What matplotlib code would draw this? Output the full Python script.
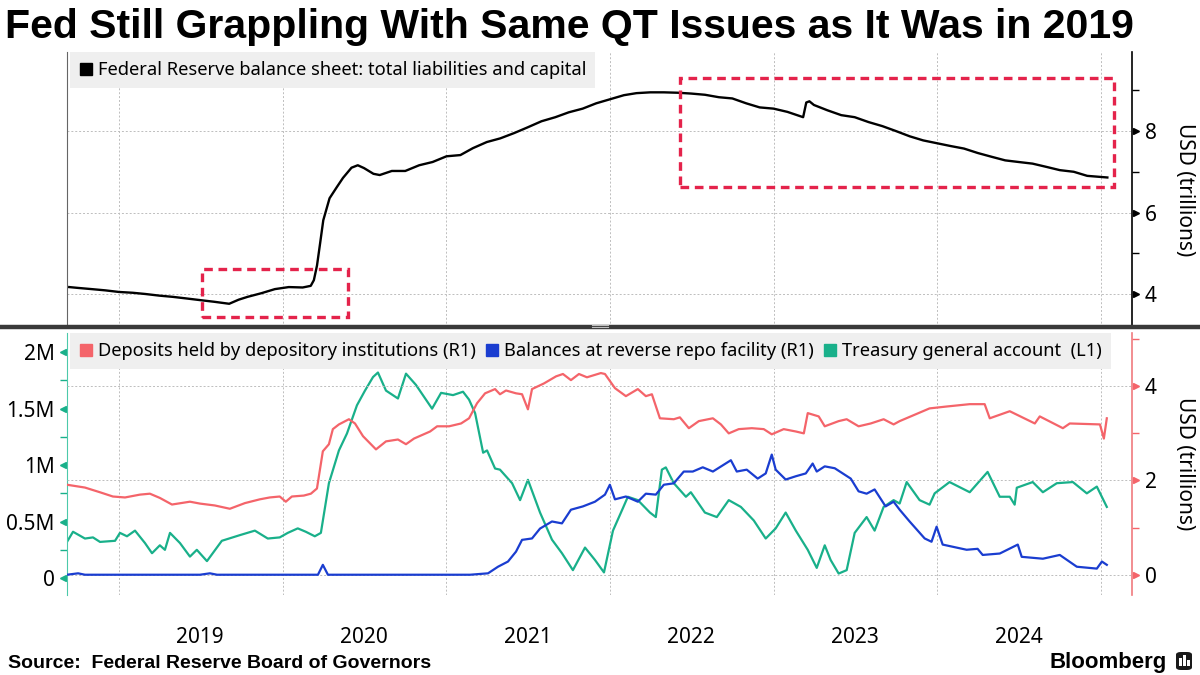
import numpy as np
import pandas as pd
import matplotlib
matplotlib.use("Agg")
import matplotlib.pyplot as plt
import matplotlib.dates as mdates
import matplotlib.ticker as mticker
import matplotlib.transforms as mtransforms
from matplotlib.patches import Rectangle, FancyBboxPatch
from matplotlib.lines import Line2D

plt.rcParams['font.family'] = ['Noto Sans', 'DejaVu Sans']

# ---- data ----
# Fed balance sheet, USD trillions
bs_dates = ["2018-09-12", "2018-10-01", "2018-11-01", "2018-12-01", "2019-01-01", "2019-02-01",
            "2019-03-01", "2019-04-01", "2019-05-01", "2019-06-01", "2019-07-01", "2019-08-01",
            "2019-09-04", "2019-09-25", "2019-10-15", "2019-11-15", "2019-12-15", "2020-01-15",
            "2020-02-15", "2020-03-04", "2020-03-11", "2020-03-18", "2020-03-25", "2020-04-01",
            "2020-04-15", "2020-05-01", "2020-05-15", "2020-06-03", "2020-06-17", "2020-07-01",
            "2020-07-22", "2020-08-05", "2020-09-01", "2020-10-01", "2020-11-01", "2020-12-01",
            "2021-01-01", "2021-02-01", "2021-03-01", "2021-04-01", "2021-05-01", "2021-06-01",
            "2021-07-01", "2021-08-01", "2021-09-01", "2021-10-01", "2021-11-01", "2021-12-01",
            "2022-01-01", "2022-02-01", "2022-03-01", "2022-04-01", "2022-05-01", "2022-06-01",
            "2022-07-01", "2022-08-01", "2022-09-01", "2022-10-01", "2022-11-01", "2022-12-01",
            "2023-01-01", "2023-02-01", "2023-03-08", "2023-03-15", "2023-03-22", "2023-04-01",
            "2023-05-01", "2023-06-01", "2023-07-01", "2023-08-01", "2023-09-01", "2023-10-01",
            "2023-11-01", "2023-12-01", "2024-01-01", "2024-02-01", "2024-03-01", "2024-04-01",
            "2024-05-01", "2024-06-01", "2024-07-01", "2024-08-01", "2024-09-01", "2024-10-01",
            "2024-11-01", "2024-12-01", "2025-01-15"]
bs_vals = [4.17, 4.15, 4.12, 4.09, 4.05, 4.03,
           4.00, 3.96, 3.93, 3.89, 3.85, 3.81,
           3.76, 3.86, 3.93, 4.02, 4.12, 4.17,
           4.16, 4.20, 4.34, 4.70, 5.25, 5.81,
           6.35, 6.62, 6.85, 7.10, 7.16, 7.09,
           6.95, 6.92, 7.02, 7.02, 7.16, 7.24,
           7.38, 7.41, 7.58, 7.73, 7.82, 7.95,
           8.09, 8.24, 8.34, 8.46, 8.55, 8.68,
           8.78, 8.88, 8.93, 8.95, 8.95, 8.94,
           8.92, 8.89, 8.83, 8.80, 8.68, 8.58,
           8.55, 8.47, 8.34, 8.70, 8.73, 8.64,
           8.51, 8.39, 8.34, 8.22, 8.12, 8.00,
           7.87, 7.77, 7.70, 7.63, 7.57, 7.46,
           7.37, 7.28, 7.24, 7.20, 7.12, 7.04,
           7.00, 6.90, 6.86]

# Deposits held by depository institutions, USD trillions (R1); times as decimal years
dep_t = [2018.682, 2018.792, 2018.884, 2018.963, 2019.037, 2019.128, 2019.189, 2019.250,
         2019.324, 2019.434, 2019.495, 2019.586, 2019.678, 2019.770, 2019.861, 2019.922,
         2019.983, 2020.020, 2020.057, 2020.130, 2020.173, 2020.210, 2020.246, 2020.283,
         2020.307, 2020.344, 2020.405, 2020.442, 2020.491, 2020.570, 2020.631, 2020.704,
         2020.753, 2020.802, 2020.900, 2020.943, 2021.016, 2021.089, 2021.138, 2021.187,
         2021.236, 2021.297, 2021.327, 2021.364, 2021.425, 2021.462, 2021.498, 2021.523,
         2021.596, 2021.670, 2021.712, 2021.761, 2021.810, 2021.859, 2021.944, 2021.969,
         2022.030, 2022.097, 2022.170, 2022.219, 2022.256, 2022.305, 2022.390, 2022.427,
         2022.482, 2022.543, 2022.629, 2022.678, 2022.726, 2022.787, 2022.867, 2022.940,
         2022.989, 2023.062, 2023.136, 2023.185, 2023.209, 2023.276, 2023.313, 2023.398,
         2023.447, 2023.520, 2023.594, 2023.673, 2023.734, 2023.771, 2023.954, 2024.058,
         2024.199, 2024.290, 2024.321, 2024.443, 2024.596, 2024.626, 2024.767, 2024.809,
         2024.993, 2025.017, 2025.035]
dep_vals = [1.91, 1.85, 1.75, 1.66, 1.64, 1.70, 1.72, 1.63,
            1.49, 1.55, 1.51, 1.47, 1.40, 1.52, 1.60, 1.64,
            1.66, 1.55, 1.66, 1.68, 1.72, 1.83, 2.62, 2.77,
            3.09, 3.19, 3.30, 3.21, 2.94, 2.66, 2.83, 2.87,
            2.77, 2.89, 3.04, 3.15, 3.15, 3.21, 3.32, 3.64,
            3.85, 3.94, 3.83, 3.91, 3.85, 3.83, 3.51, 3.94,
            4.06, 4.21, 4.26, 4.13, 4.26, 4.19, 4.28, 4.26,
            3.96, 3.79, 3.94, 3.79, 3.83, 3.32, 3.30, 3.34,
            3.11, 3.26, 3.32, 3.19, 3.00, 3.09, 3.11, 3.09,
            2.98, 3.09, 3.04, 3.00, 3.43, 3.36, 3.15, 3.26,
            3.30, 3.15, 3.21, 3.30, 3.19, 3.26, 3.53, 3.57,
            3.62, 3.62, 3.32, 3.47, 3.21, 3.36, 3.11, 3.21,
            3.19, 2.89, 3.32]

# Balances at reverse repo facility, USD trillions (R1)
rrp_t = [2018.682, 2018.750, 2018.792, 2019.495, 2019.556, 2019.600, 2020.216, 2020.246,
         2020.277, 2021.144, 2021.254, 2021.315, 2021.376, 2021.425, 2021.462, 2021.523,
         2021.572, 2021.645, 2021.706, 2021.761, 2021.834, 2021.908, 2021.969, 2021.999,
         2022.030, 2022.097, 2022.170, 2022.219, 2022.280, 2022.329, 2022.390, 2022.451,
         2022.506, 2022.567, 2022.629, 2022.739, 2022.775, 2022.836, 2022.903, 2022.952,
         2022.989, 2023.013, 2023.074, 2023.136, 2023.197, 2023.239, 2023.264, 2023.313,
         2023.374, 2023.472, 2023.520, 2023.569, 2023.618, 2023.685, 2023.734, 2023.771,
         2023.832, 2023.924, 2023.966, 2023.997, 2024.034, 2024.180, 2024.247, 2024.278,
         2024.382, 2024.492, 2024.516, 2024.645, 2024.748, 2024.852, 2024.974, 2025.005,
         2025.035]
rrp_vals = [0.00, 0.03, 0.00, 0.00, 0.03, 0.00, 0.00, 0.21,
            0.00, 0.00, 0.03, 0.17, 0.28, 0.49, 0.74, 0.77,
            0.98, 1.13, 1.09, 1.38, 1.45, 1.55, 1.70, 1.91,
            1.60, 1.66, 1.55, 1.72, 1.70, 1.91, 1.94, 2.19,
            2.19, 2.28, 2.19, 2.43, 2.19, 2.23, 2.04, 2.15,
            2.55, 2.23, 2.02, 2.09, 2.15, 2.36, 2.19, 2.30,
            2.26, 2.04, 1.77, 1.72, 1.81, 1.45, 1.55, 1.38,
            1.13, 0.77, 0.70, 1.02, 0.64, 0.53, 0.55, 0.42,
            0.45, 0.64, 0.38, 0.34, 0.42, 0.17, 0.13, 0.28,
            0.21]

# Treasury general account, USD millions, shown in M (L1)
tga_t = [2018.682, 2018.719, 2018.792, 2018.841, 2018.884, 2018.976, 2019.006, 2019.049,
         2019.098, 2019.159, 2019.202, 2019.250, 2019.281, 2019.312, 2019.373, 2019.434,
         2019.476, 2019.538, 2019.629, 2019.739, 2019.831, 2019.910, 2019.983, 2020.032,
         2020.093, 2020.142, 2020.197, 2020.234, 2020.283, 2020.344, 2020.393, 2020.454,
         2020.503, 2020.552, 2020.582, 2020.631, 2020.704, 2020.753, 2020.814, 2020.912,
         2020.967, 2021.040, 2021.101, 2021.138, 2021.175, 2021.224, 2021.248, 2021.297,
         2021.327, 2021.401, 2021.450, 2021.498, 2021.572, 2021.645, 2021.706, 2021.773,
         2021.847, 2021.908, 2021.963, 2022.018, 2022.079, 2022.109, 2022.170, 2022.244,
         2022.280, 2022.317, 2022.341, 2022.390, 2022.464, 2022.494, 2022.580, 2022.653,
         2022.726, 2022.800, 2022.879, 2022.952, 2023.013, 2023.074, 2023.136, 2023.209,
         2023.264, 2023.313, 2023.349, 2023.398, 2023.447, 2023.496, 2023.569, 2023.618,
         2023.673, 2023.734, 2023.771, 2023.814, 2023.893, 2023.954, 2023.985, 2024.076,
         2024.199, 2024.308, 2024.382, 2024.443, 2024.473, 2024.486, 2024.583, 2024.645,
         2024.730, 2024.828, 2024.913, 2024.974, 2025.035]
tga_vals = [0.32, 0.41, 0.35, 0.36, 0.32, 0.33, 0.40, 0.37,
            0.42, 0.31, 0.22, 0.29, 0.25, 0.40, 0.31, 0.19,
            0.25, 0.15, 0.33, 0.38, 0.42, 0.35, 0.36, 0.40,
            0.44, 0.41, 0.37, 0.40, 0.84, 1.13, 1.28, 1.53,
            1.66, 1.78, 1.82, 1.66, 1.59, 1.81, 1.71, 1.50,
            1.64, 1.62, 1.65, 1.58, 1.46, 1.11, 1.13, 0.97,
            0.96, 0.84, 0.69, 0.87, 0.58, 0.34, 0.22, 0.07,
            0.27, 0.16, 0.05, 0.42, 0.62, 0.72, 0.69, 0.58,
            0.54, 0.96, 0.98, 0.84, 0.72, 0.76, 0.58, 0.54,
            0.69, 0.63, 0.51, 0.35, 0.44, 0.58, 0.42, 0.25,
            0.09, 0.29, 0.16, 0.04, 0.07, 0.40, 0.54, 0.42,
            0.63, 0.69, 0.66, 0.85, 0.69, 0.65, 0.75, 0.85,
            0.76, 0.94, 0.72, 0.72, 0.65, 0.80, 0.85, 0.76,
            0.84, 0.85, 0.75, 0.81, 0.63]

# red boxes on the top panel: (start, end, low, high)
box_starts = ["2019-07-05", "2022-06-07"]
box_ends = ["2020-05-26", "2025-01-30"]
box_lows = [3.44, 6.62]
box_highs = [4.61, 9.29]


def dec_to_date(values):
    out = []
    for v in values:
        y = int(np.floor(v))
        start = pd.Timestamp(year=y, month=1, day=1)
        days = (pd.Timestamp(year=y + 1, month=1, day=1) - start).days
        out.append(start + pd.Timedelta(days=(v - y) * days))
    return out


# ---- colours ----
c_black = "#000000"
c_dep = "#f4646a"
c_rrp = "#1a3dd0"
c_tga = "#19b08a"
c_box = "#e4234b"
c_grid = "#bdbdbd"

W, H = 1200, 675
fig = plt.figure(figsize=(12, 6.75), dpi=100)


def px_box(l, t, r, b):
    return [l / W, 1 - b / H, (r - l) / W, (b - t) / H]


ax1 = fig.add_axes(px_box(67, 52, 1132, 327))
ax2 = fig.add_axes(px_box(67, 333, 1132, 595), sharex=ax1)
ax2r = ax2.twinx()

xmin, xmax = pd.Timestamp("2018-09-07"), pd.Timestamp("2025-03-11")
label_x = (1185 - 67) / (1132 - 67)

# ---- top panel ----
ax1.plot(pd.to_datetime(bs_dates), bs_vals, color=c_black, lw=1.7, zorder=3)
ax1.set_xlim(xmin, xmax)
ax1.set_ylim(3.19, 9.94)
ax1.yaxis.tick_right()
ax1.yaxis.set_label_position("right")
ax1.set_yticks([4, 6, 8])
ax1.yaxis.set_minor_locator(mticker.FixedLocator([5, 7, 9]))
ax1.tick_params(axis="y", which="major", length=0, pad=9, labelsize=15)
ax1.tick_params(axis="y", which="minor", length=5, width=1, color=c_black)
ax1.set_ylabel("USD (trillions)", rotation=270, fontsize=15, ha="center", va="center")
ax1.yaxis.set_label_coords(label_x, 0.5)
for s in ["top", "bottom"]:
    ax1.spines[s].set_visible(False)
ax1.spines["left"].set_color("#666666")
ax1.spines["left"].set_linewidth(0.8)
ax1.spines["right"].set_color(c_black)
ax1.spines["right"].set_linewidth(1.2)
ax1.grid(True, axis="both", which="major", color=c_grid, ls=(0, (2, 2)), lw=0.7)
trans1 = mtransforms.blended_transform_factory(ax1.transAxes, ax1.transData)
ax1.plot([1.0035] * 3, [4, 6, 8], transform=trans1, ls="none", marker=">", ms=5,
         color=c_black, clip_on=False)

for st, en, lo, hi in zip(box_starts, box_ends, box_lows, box_highs):
    x0 = mdates.date2num(pd.Timestamp(st))
    x1 = mdates.date2num(pd.Timestamp(en))
    ax1.add_patch(Rectangle((x0, lo), x1 - x0, hi - lo, fill=False, ec=c_box,
                            lw=2.4, ls=(0, (2.6, 1.7)), zorder=4))

leg1 = ax1.legend(handles=[Line2D([], [], ls="none", marker="s", ms=9, color=c_black)],
                  labels=["Federal Reserve balance sheet: total liabilities and capital"],
                  loc="upper left", bbox_to_anchor=(0.003, 1.0), borderaxespad=0,
                  frameon=True, fancybox=False, facecolor="#efefef", edgecolor="none",
                  framealpha=1, fontsize=13.2, handlelength=0.7, handletextpad=0.3,
                  borderpad=0.5)

# ---- bottom panel ----
ax2.plot(dec_to_date(tga_t), tga_vals, color=c_tga, lw=1.6, zorder=2)
ax2r.plot(dec_to_date(dep_t), dep_vals, color=c_dep, lw=1.6, zorder=3)
ax2r.plot(dec_to_date(rrp_t), rrp_vals, color=c_rrp, lw=1.6, zorder=4)

ax2.set_ylim(-0.15, 2.17)
ax2.set_yticks([0, 0.5, 1, 1.5, 2])
ax2.set_yticklabels(["0", "0.5M", "1M", "1.5M", "2M"])
ax2.yaxis.set_minor_locator(mticker.FixedLocator([0.25, 0.75, 1.25, 1.75]))
ax2.tick_params(axis="y", which="major", length=0, pad=9, labelsize=15)
ax2.tick_params(axis="y", which="minor", length=5, width=1, color=c_tga)

ax2r.set_ylim(-0.43, 5.13)
ax2r.set_yticks([0, 2, 4])
ax2r.yaxis.set_minor_locator(mticker.FixedLocator([1, 3, 5]))
ax2r.tick_params(axis="y", which="major", length=0, pad=9, labelsize=15)
ax2r.tick_params(axis="y", which="minor", length=5, width=1, color=c_dep)
ax2r.set_ylabel("USD (trillions)", rotation=270, fontsize=15, ha="center", va="center")
ax2r.yaxis.set_label_coords(label_x, 0.5)

for a in (ax2, ax2r):
    for s in ["top", "bottom"]:
        a.spines[s].set_visible(False)
ax2.spines["left"].set_color("#4cc9aa")
ax2.spines["right"].set_visible(False)
ax2r.spines["left"].set_visible(False)
ax2r.spines["right"].set_color("#f07a7e")
ax2r.spines["right"].set_linewidth(1.2)

trans2 = mtransforms.blended_transform_factory(ax2.transAxes, ax2.transData)
ax2.plot([-0.0035] * 5, [0, 0.5, 1, 1.5, 2], transform=trans2, ls="none", marker="<",
         ms=5, color=c_tga, clip_on=False)
trans2r = mtransforms.blended_transform_factory(ax2r.transAxes, ax2r.transData)
ax2r.plot([1.0035] * 3, [0, 2, 4], transform=trans2r, ls="none", marker=">", ms=5,
          color=c_dep, clip_on=False)

ax2.grid(True, axis="x", which="major", color=c_grid, ls=(0, (2, 2)), lw=0.7)
ax2r.grid(True, axis="y", which="major", color=c_grid, ls=(0, (2, 2)), lw=0.7)
ax2.set_axisbelow(True)

# x axis: grid at year starts, labels mid-year
ax2.set_xlim(xmin, xmax)
ax2.xaxis.set_major_locator(mdates.YearLocator())
ax2.xaxis.set_major_formatter(mticker.NullFormatter())
ax2.xaxis.set_minor_locator(mdates.MonthLocator(bymonth=7))
ax2.xaxis.set_minor_formatter(mdates.DateFormatter("%Y"))
ax2.tick_params(axis="x", which="both", length=0, pad=23, labelsize=15)
ax1.tick_params(axis="x", which="both", length=0, labelbottom=False)

leg_handles = [Line2D([], [], ls="none", marker="s", ms=9, color=c) for c in (c_dep, c_rrp, c_tga)]
leg_labels = ["Deposits held by depository institutions (R1)",
              "Balances at reverse repo facility (R1)",
              "Treasury general account  (L1)"]
leg2 = ax2r.legend(handles=leg_handles, labels=leg_labels, ncol=3, loc="upper left",
                   bbox_to_anchor=(0.003, 1.0), borderaxespad=0, frameon=True, fancybox=False,
                   facecolor="#efefef", edgecolor="none", framealpha=1, fontsize=13.2,
                   handlelength=0.7, handletextpad=0.3, columnspacing=0.55, borderpad=0.5)

# ---- separator between panels ----
sep_y = 1 - 327 / H
fig.add_artist(Line2D([0, 1], [sep_y, sep_y], transform=fig.transFigure, color="#3a3a3a", lw=3.2))
for dy in (1.2, -0.2):
    fig.add_artist(Line2D([592 / W, 608 / W], [sep_y + dy / H * 1.5, sep_y + dy / H * 1.5],
                          transform=fig.transFigure, color="#bdbdbd", lw=0.8))

# ---- title and footer ----
title = fig.text(5 / W, 1 - 38 / H, "Fed Still Grappling With Same QT Issues as It Was in 2019",
                 fontsize=26, fontweight="bold", family=["Liberation Sans", "DejaVu Sans"],
                 ha="left", va="baseline")
fig.canvas.draw()
bb = title.get_window_extent()
title.set_fontsize(26 * (1130 / bb.width))

fig.text(8 / W, 1 - 668 / H, "Source:  Federal Reserve Board of Governors", fontsize=14,
         fontweight="bold", family=["Liberation Sans", "DejaVu Sans"], ha="left", va="baseline")
fig.text(1167 / W, 1 - 668 / H, "Bloomberg", fontsize=16, fontweight="bold",
         family=["Liberation Sans", "DejaVu Sans"], ha="right", va="baseline")
fig.add_artist(FancyBboxPatch((1176 / W, 1 - 670 / H), 16 / W, 18 / H,
                              boxstyle="round,pad=0,rounding_size=0.004",
                              transform=fig.transFigure, fc="#1a1a1a", ec="none"))
for bx, bh in zip([1179, 1183, 1187], [8, 11, 6]):
    fig.add_artist(Rectangle((bx / W, 1 - 666 / H), 2.5 / W, bh / H,
                             transform=fig.transFigure, fc="white", ec="none"))

fig.savefig("out.png", dpi=100)
